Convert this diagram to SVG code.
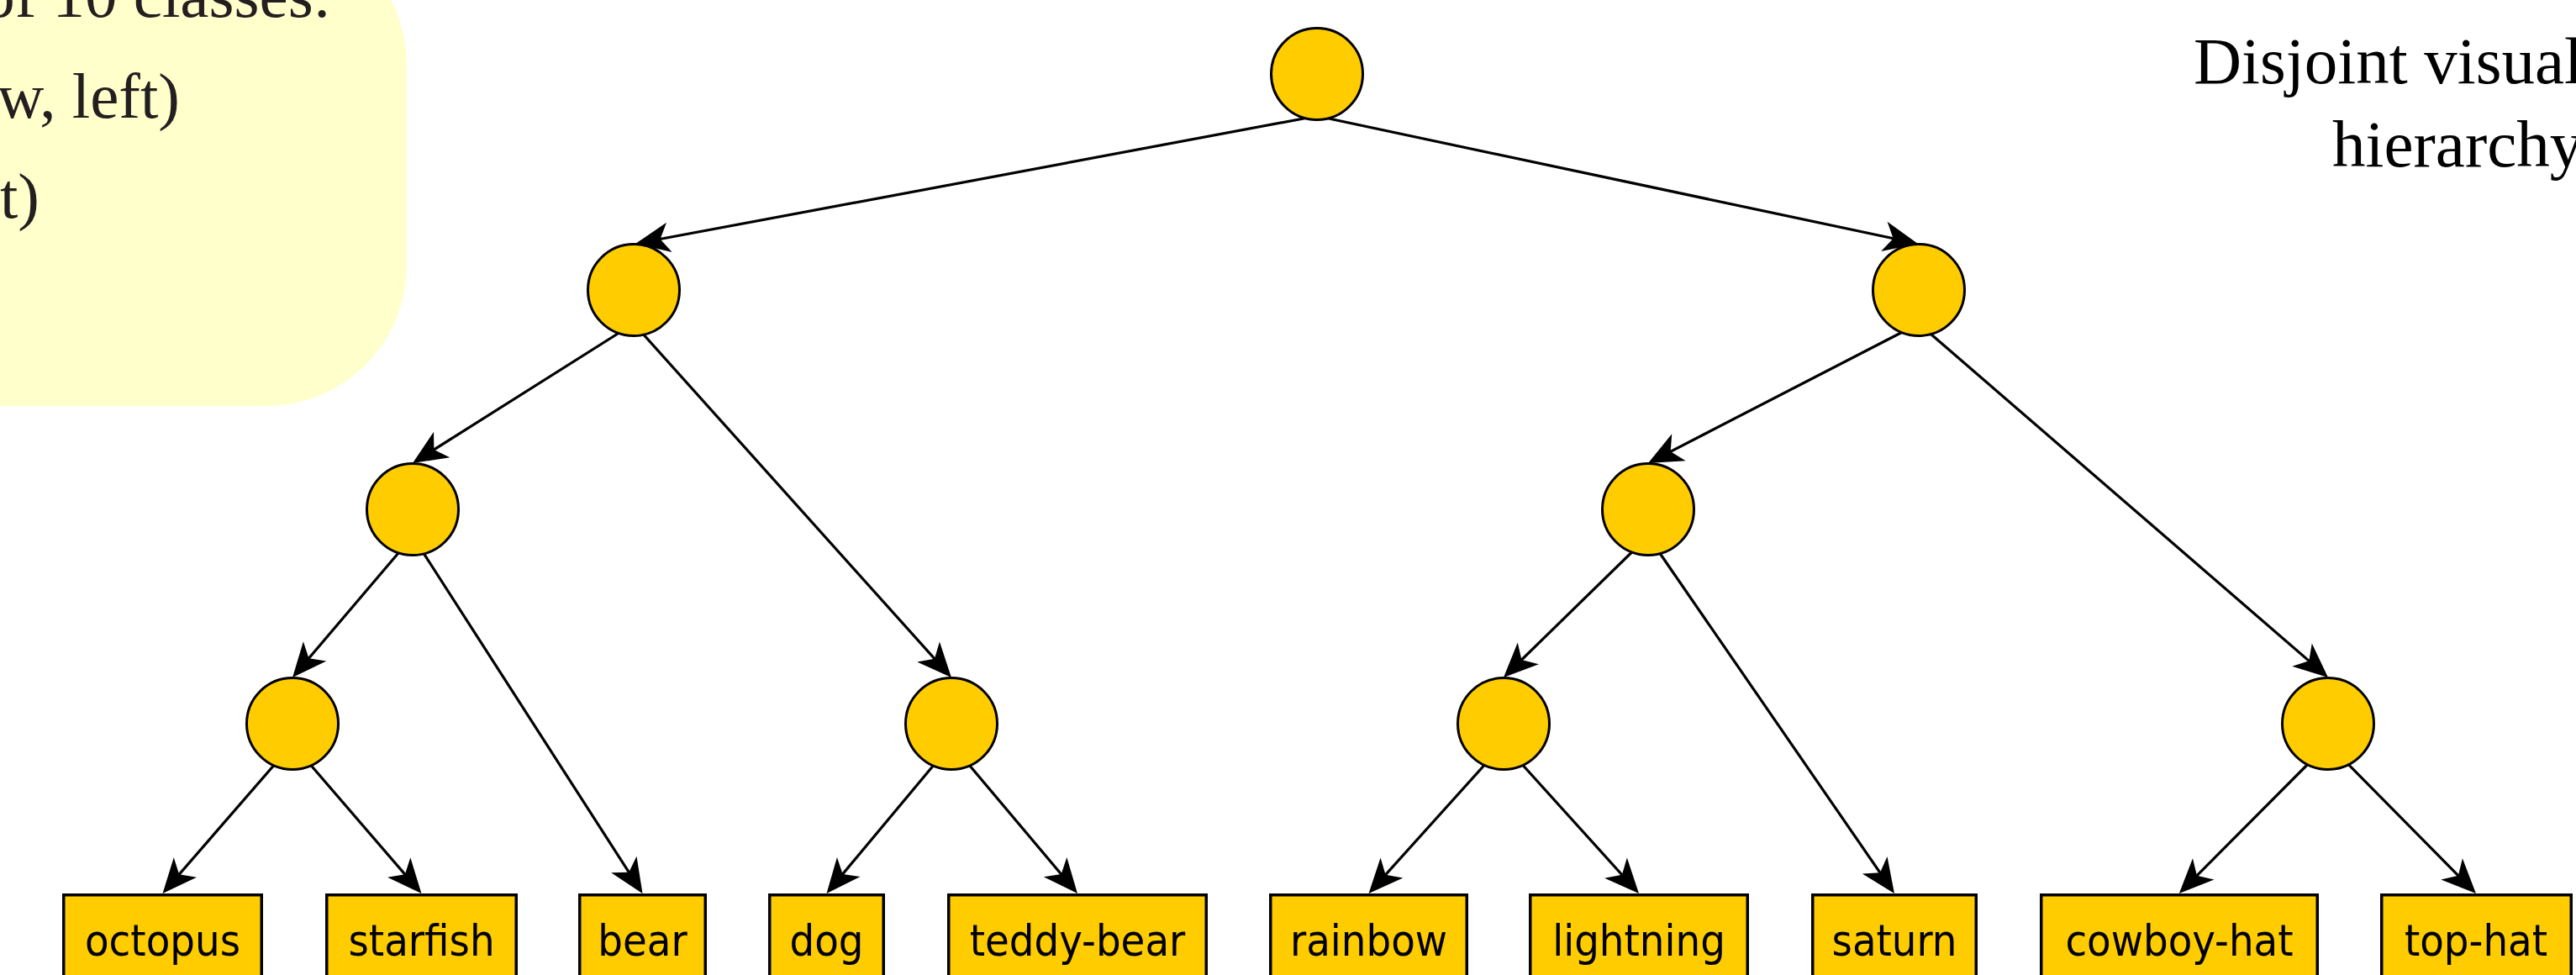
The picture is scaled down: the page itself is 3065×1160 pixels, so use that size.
<svg xmlns="http://www.w3.org/2000/svg" width="3065" height="1160" viewBox="0 0 3065 1160">
<style>
.bg{fill:#ffffff}
.note{fill:#ffffcc}
.serif{font-family:"Liberation Serif","Times New Roman",serif;font-size:77px}
.big{font-size:79px}
.lt{fill:#231f20}
.rt{fill:#000000}
.c{fill:#ffcc00;stroke:#000;stroke-width:3}
.b{fill:#ffcc00;stroke:#000;stroke-width:3.5}
.lbl{font-family:"DejaVu Sans Condensed","DejaVu Sans",sans-serif;font-stretch:condensed;font-size:52px;fill:#000;text-anchor:middle}
.e{stroke:#000;stroke-width:3.2;fill:none;marker-end:url(#arr)}
</style>
<defs>
<marker id="arr" markerUnits="userSpaceOnUse" orient="auto" refX="-20" refY="0" markerWidth="60" markerHeight="60" overflow="visible">
<path d="M0,0 L-41,-18 L-30,0 L-41,18 Z" fill="#000"/>
</marker>
</defs>
<rect class="bg" x="0" y="0" width="3065" height="1160"/>
<g id="note">
<rect class="note" x="-250" y="-90" width="734" height="573" rx="167" ry="167"/>
<text class="serif lt" x="394" y="20" text-anchor="end">of 10 classes:</text>
<text class="serif lt" x="214" y="140" text-anchor="end">w, left)</text>
<text class="serif lt" x="47" y="259" text-anchor="end">t)</text>
</g>
<g id="title">
<text class="serif big rt" x="2610" y="99">Disjoint visual</text>
<text class="serif big rt" x="2775" y="198">hierarchy</text>
</g>
<g id="connectors">
<line class="e" x1="1567" y1="138" x2="775.7" y2="286.3"/>
<line class="e" x1="1567" y1="138" x2="2262.4" y2="285.8"/>
<line class="e" x1="754" y1="385" x2="507.9" y2="540.3"/>
<line class="e" x1="754" y1="385" x2="1118.6" y2="791.1"/>
<line class="e" x1="2283" y1="385" x2="1978.8" y2="541.8"/>
<line class="e" x1="2283" y1="385" x2="2754.9" y2="792.9"/>
<line class="e" x1="491" y1="638" x2="361.0" y2="790.8"/>
<line class="e" x1="491" y1="638" x2="753.7" y2="1046.2"/>
<line class="e" x1="1961" y1="638" x2="1803.3" y2="792.0"/>
<line class="e" x1="1961" y1="638" x2="2242.6" y2="1046.5"/>
<line class="e" x1="348" y1="885" x2="206.6" y2="1047.9"/>
<line class="e" x1="348" y1="885" x2="488.4" y2="1047.9"/>
<line class="e" x1="1132" y1="885" x2="996.3" y2="1047.6"/>
<line class="e" x1="1132" y1="885" x2="1269.1" y2="1047.7"/>
<line class="e" x1="1789" y1="885" x2="1641.9" y2="1048.1"/>
<line class="e" x1="1789" y1="885" x2="1936.6" y2="1048.2"/>
<line class="e" x1="2770" y1="885" x2="2606.9" y2="1048.8"/>
<line class="e" x1="2770" y1="885" x2="2931.9" y2="1048.8"/>
</g>
<g id="n-root"><circle class="c" cx="1567" cy="88" r="54.5"/></g>
<g id="n-l1a"><circle class="c" cx="754" cy="345" r="54.5"/></g>
<g id="n-l1b"><circle class="c" cx="2283" cy="345" r="54.5"/></g>
<g id="n-l2a"><circle class="c" cx="491" cy="606" r="54.5"/></g>
<g id="n-l2b"><circle class="c" cx="1961" cy="606" r="54.5"/></g>
<g id="n-l3a"><circle class="c" cx="348" cy="861" r="54.5"/></g>
<g id="n-l3b"><circle class="c" cx="1132" cy="861" r="54.5"/></g>
<g id="n-l3c"><circle class="c" cx="1789" cy="861" r="54.5"/></g>
<g id="n-l3d"><circle class="c" cx="2770" cy="861" r="54.5"/></g>
<g id="n-octopus"><rect class="b" x="75.75" y="1064.75" width="235.5" height="120"/><text class="lbl" x="193.5" y="1137">octopus</text></g>
<g id="n-starfish"><rect class="b" x="388.75" y="1064.75" width="225.5" height="120"/><text class="lbl" x="501.5" y="1137">starfish</text></g>
<g id="n-bear"><rect class="b" x="689.75" y="1064.75" width="149.5" height="120"/><text class="lbl" x="764.5" y="1137">bear</text></g>
<g id="n-dog"><rect class="b" x="915.75" y="1064.75" width="135.5" height="120"/><text class="lbl" x="983.5" y="1137">dog</text></g>
<g id="n-teddy-bear"><rect class="b" x="1128.75" y="1064.75" width="306.5" height="120"/><text class="lbl" x="1282" y="1137">teddy-bear</text></g>
<g id="n-rainbow"><rect class="b" x="1511.75" y="1064.75" width="233.5" height="120"/><text class="lbl" x="1628.5" y="1137">rainbow</text></g>
<g id="n-lightning"><rect class="b" x="1820.75" y="1064.75" width="258.5" height="120"/><text class="lbl" x="1950" y="1137">lightning</text></g>
<g id="n-saturn"><rect class="b" x="2156.75" y="1064.75" width="194.5" height="120"/><text class="lbl" x="2254" y="1137">saturn</text></g>
<g id="n-cowboy-hat"><rect class="b" x="2428.75" y="1064.75" width="328.5" height="120"/><text class="lbl" x="2593" y="1137">cowboy-hat</text></g>
<g id="n-top-hat"><rect class="b" x="2833.75" y="1064.75" width="225.5" height="120"/><text class="lbl" x="2946" y="1137">top-hat</text></g>
</svg>
